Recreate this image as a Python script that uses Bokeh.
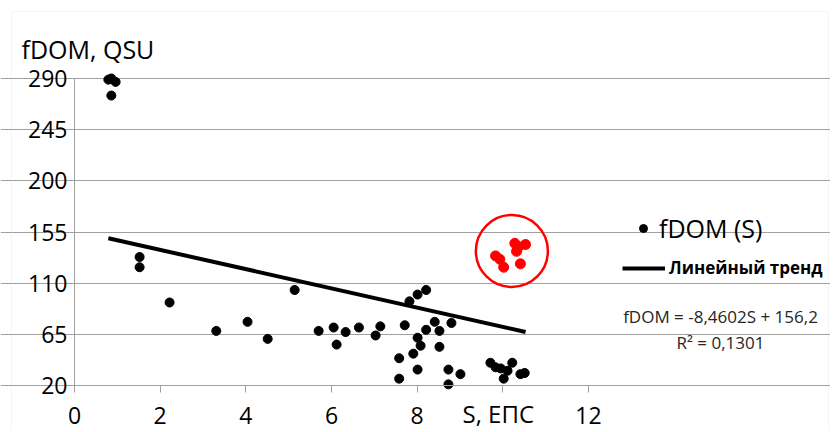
from bokeh.plotting import figure
from bokeh.models import Legend, LegendItem, Label, FixedTicker, Range1d, BoxAnnotation
from bokeh.embed import file_html
from bokeh.resources import INLINE

# ---- data ----
s_black = [0.79, 0.86, 0.96, 0.86, 1.52, 1.52, 2.22, 3.31, 4.04, 4.51, 5.14, 5.70,
           6.05, 6.12, 6.33, 6.64, 7.03, 7.14, 7.71, 7.58, 7.58, 7.82, 8.01, 8.21,
           8.01, 8.08, 7.91, 8.01, 8.21, 8.41, 8.52, 8.52, 8.80, 8.73, 8.73, 9.01,
           9.71, 9.83, 9.95, 10.11, 10.02, 10.22, 10.41, 10.51]
fdom_black = [289, 290, 287, 275, 133, 124, 93, 68, 76, 61, 104, 68,
              71, 56, 67, 71, 64, 72, 73, 44, 26, 94, 100, 104,
              62, 55, 48, 34, 69, 76, 68, 54, 75, 34, 21, 30,
              40, 36, 35, 33, 26, 40, 30, 31]
s_red = [9.83, 9.93, 10.02, 10.41, 10.28, 10.37, 10.53, 10.32]
fdom_red = [134, 131, 124, 127, 145, 142, 144, 138]

trend_slope = -8.4602
trend_intercept = 156.2
r_squared = "0,1301"

x_ticks = [0, 2, 4, 6, 8, 10, 12]
x_hidden_tick = 10          # covered by the axis title in the original
y_ticks = [20, 65, 110, 155, 200, 245, 290]

# ---- layout constants (pixels) ----
W, H = 830, 430
AX_L, AX_R = 74, 588      # pixel of x=0 and x=12
AX_T, AX_B = 78, 385      # pixel of y=290 and y=20
x0d, x1d = x_ticks[0], x_ticks[-1]
y0d, y1d = y_ticks[0], y_ticks[-1]
kx = (AX_R - AX_L) / (x1d - x0d)
ky = (AX_B - AX_T) / (y1d - y0d)

def px2x(px):
    return x0d + (px - AX_L) / kx

def py2y(py):
    return y0d + (AX_B - py) / ky

FONT = "Open Sans"
GRID = "#a0a0a0"

p = figure(width=W, height=H, output_backend="svg", toolbar_location=None,
           x_range=Range1d(px2x(0), px2x(W)), y_range=Range1d(py2y(H), py2y(0)),
           min_border=0, min_border_left=0, min_border_right=0,
           min_border_top=0, min_border_bottom=0)
p.outline_line_color = None
p.xgrid.visible = False
p.ygrid.grid_line_color = GRID
p.ygrid.grid_line_width = 1
p.ygrid.bounds = (x0d, x1d)
p.xaxis.ticker = FixedTicker(ticks=x_ticks)
p.yaxis.ticker = FixedTicker(ticks=y_ticks)
p.xaxis.major_label_overrides = {x_hidden_tick: ""}
p.xaxis.fixed_location = y0d
p.yaxis.fixed_location = x0d
p.xaxis.bounds = (x0d, x1d)
p.yaxis.bounds = (y0d, y1d)
for ax in (p.xaxis, p.yaxis):
    ax.axis_line_color = GRID
    ax.major_tick_line_color = GRID
    ax.minor_tick_line_color = None
    ax.major_tick_out = 7
    ax.major_tick_in = 0
    ax.major_label_text_font = FONT
    ax.major_label_text_font_size = "23px"
    ax.major_label_text_color = "#000000"
p.xaxis.major_label_standoff = 14
p.yaxis.major_label_standoff = 0

# chart border
p.add_layout(BoxAnnotation(left=px2x(11), right=px2x(828), top=py2y(11), bottom=py2y(H + 5),
                           fill_alpha=0, line_color="#d9d9d9", line_width=1))

# trend line over the data extent
xs_all = s_black + s_red
xa, xb = min(xs_all), max(xs_all)
r_trend = p.line([xa, xb], [trend_intercept + trend_slope * xa, trend_intercept + trend_slope * xb],
                 line_color="black", line_width=4)

r_pts = p.scatter(s_black, fdom_black, size=9, color="black")
p.scatter(s_red, fdom_red, size=10, color="#ff0000")

# highlight circle around the red group
cx = sum(s_red) / len(s_red)
cy = sum(fdom_red) / len(fdom_red)
p.scatter([cx], [cy + 3 / ky], size=72, fill_color=None, line_color="#ff0000", line_width=2.5)

leg1 = Legend(items=[LegendItem(label="fDOM (S)", renderers=[r_pts])],
              location=(633, H - 245), padding=0, margin=0, border_line_color=None,
              background_fill_alpha=0, label_text_font=FONT, label_text_font_size="25px",
              label_text_color="#000000", glyph_width=20, label_standoff=6)
leg2 = Legend(items=[LegendItem(label="Линейный тренд", renderers=[r_trend])],
              location=(622, H - 279), padding=0, margin=0, border_line_color=None,
              background_fill_alpha=0, label_text_font=FONT, label_text_font_size="17px",
              label_text_font_style="bold", label_text_color="#000000",
              glyph_width=43, label_standoff=4)
p.add_layout(leg1)
p.add_layout(leg2)

p.add_layout(Label(x=21, y=H - 48, x_units="screen", y_units="screen", text="fDOM, QSU",
                   text_font=FONT, text_font_size="25px", text_baseline="middle",
                   text_color="#000000"))
p.add_layout(Label(x=462, y=H - 413, x_units="screen", y_units="screen", text="S, ЕПС",
                   text_font=FONT, text_font_size="24px", text_baseline="middle",
                   text_color="#000000"))
eq = "fDOM = %sS + %s" % (str(trend_slope).replace(".", ","), str(trend_intercept).replace(".", ","))
p.add_layout(Label(x=720, y=H - 316, x_units="screen", y_units="screen", text=eq,
                   text_font=FONT, text_font_size="17px", text_align="center",
                   text_baseline="middle", text_color="#262626"))
p.add_layout(Label(x=720, y=H - 342, x_units="screen", y_units="screen",
                   text="R² = " + r_squared,
                   text_font=FONT, text_font_size="17px", text_align="center",
                   text_baseline="middle", text_color="#262626"))

open("out.html", "w").write(file_html(p, INLINE))
